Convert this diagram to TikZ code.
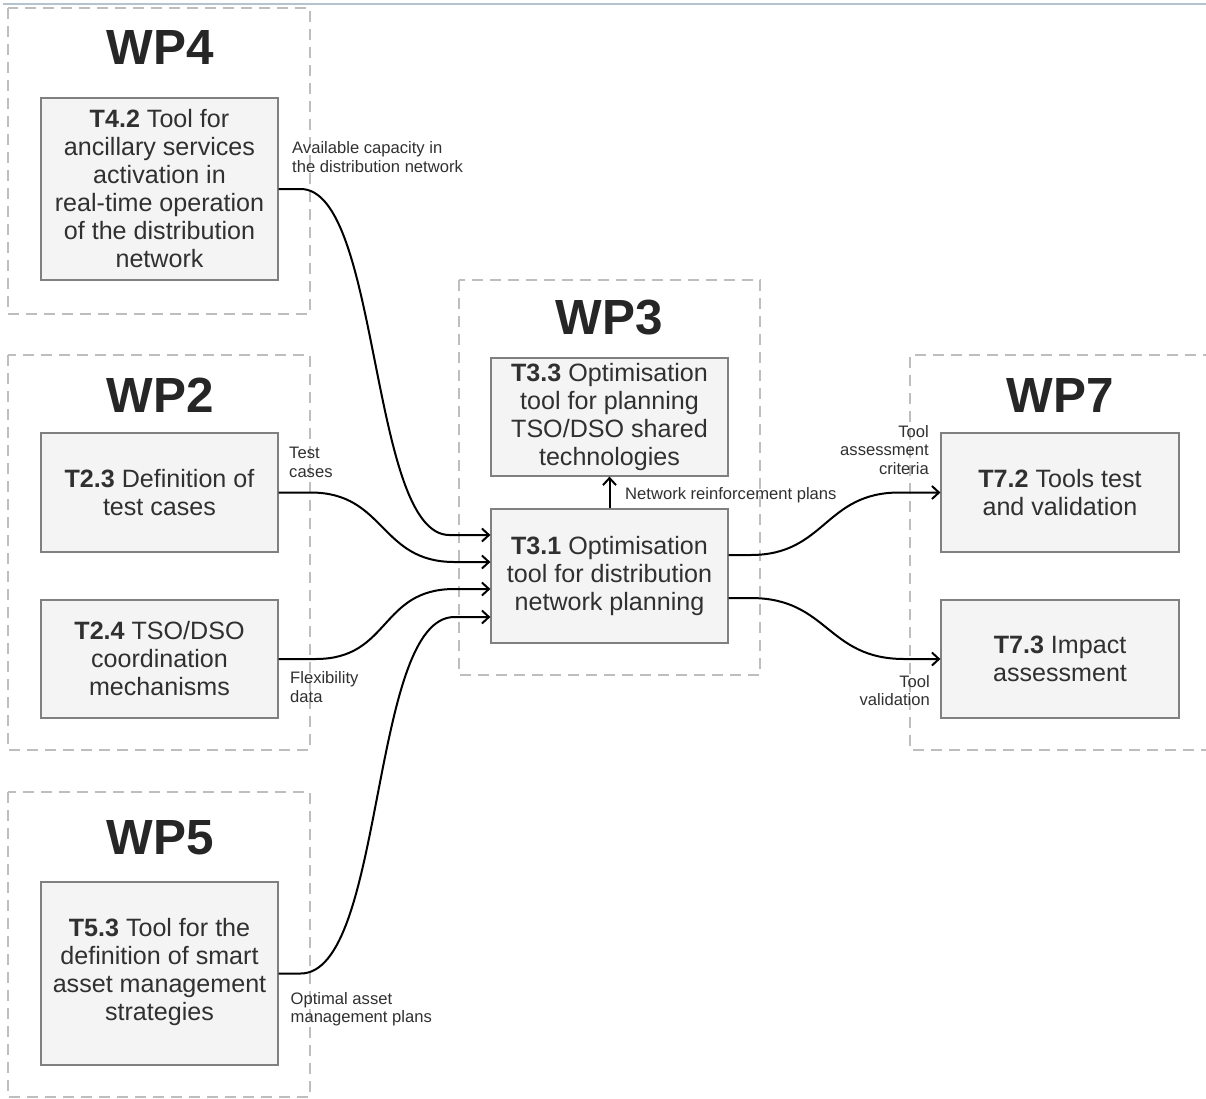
\documentclass[tikz,border=0pt]{standalone}
\usepackage{fontspec}
\setmainfont{Liberation Sans}
\usetikzlibrary{arrows.meta,calc}
\definecolor{ink}{HTML}{303030}
\definecolor{titleink}{HTML}{262626}
\definecolor{boxfill}{HTML}{F3F4F3}
\definecolor{boxline}{HTML}{808080}
\definecolor{wpline}{HTML}{BEBEBE}
\definecolor{toprule}{HTML}{B4C3CE}
\begin{document}
\begin{tikzpicture}[x=1pt,y=-1pt,
  task/.style={draw=boxline, line width=1.2pt, fill=boxfill, minimum width=237pt,
    align=center, text=ink, font=\fontsize{25.1}{28}\selectfont, inner sep=0pt},
  wpframe/.style={draw=wpline, line width=1.5pt, dash pattern=on 11pt off 7pt},
  wptitle/.style={font=\fontsize{49.4}{50}\selectfont\bfseries, text=titleink, inner sep=0pt},
  flow/.style={draw=black, line width=2pt, -{Straight Barb[length=7pt,width=13pt]}},
  note/.style={font=\fontsize{16.6}{18.7}\selectfont, text=ink, inner sep=0pt}]
\useasboundingbox (0,0) rectangle (1206,1098);

% thin rule along the top
\draw[toprule, line width=1.5pt] (3,4) -- (1206,4);

% work package frames
\draw[wpframe] (8,8) rectangle (310,314);
\draw[wpframe] (8,355) rectangle (310,750);
\draw[wpframe] (8,792) rectangle (310,1097);
\draw[wpframe] (459,280) rectangle (760,675);
\draw[wpframe] (1214,355) -- (910,355) -- (910,750) -- (1214,750);

% work package titles
\node[wptitle] (wp4) at (160,47.5) {WP4};
\node[wptitle] (wp2) at (160,395) {WP2};
\node[wptitle] (wp5) at (160,838) {WP5};
\node[wptitle] (wp3) at (609.5,318) {WP3};
\node[wptitle] (wp7) at (1060,395) {WP7};

% tasks
\node[task, minimum height=182pt] (t42) at (159.5,189)
  {\textbf{T4.2} Tool for\\ancillary services\\activation in\\real-time operation\\of the distribution\\network};
\node[task, minimum height=119pt] (t23) at (159.5,492.5)
  {\textbf{T2.3} Definition of\\test cases};
\node[task, minimum height=118pt] (t24) at (159.5,659)
  {\textbf{T2.4} TSO/DSO\\coordination\\mechanisms};
\node[task, minimum height=183pt, text depth=9pt] (t53) at (159.5,973.5)
  {\textbf{T5.3} Tool for the\\definition of smart\\asset management\\strategies};
\node[task, minimum height=118pt] (t33) at (609.5,417)
  {\textbf{T3.3} Optimisation\\tool for planning\\TSO/DSO shared\\technologies};
\node[task, minimum height=134pt] (t31) at (609.5,576)
  {\textbf{T3.1} Optimisation\\tool for distribution\\network planning};
\node[task, minimum width=238pt, minimum height=119pt] (t72) at (1060,492.5)
  {\textbf{T7.2} Tools test\\and validation};
\node[task, minimum width=238pt, minimum height=118pt] (t73) at (1060,659)
  {\textbf{T7.3} Impact\\assessment};

% connector end points on T3.1
\coordinate (in1) at ([yshift=41pt]t31.west);
\coordinate (in2) at ([yshift=14pt]t31.west);
\coordinate (in3) at ([yshift=-13pt]t31.west);
\coordinate (in4) at ([yshift=-41pt]t31.west);
\coordinate (out1) at ([yshift=21pt]t31.east);
\coordinate (out2) at ([yshift=-22pt]t31.east);

% flows into T3.1
\draw[flow] (t42.east) -- ++(22,0) .. controls +(80,0) and +(-80,0) .. ([xshift=-41pt]in1) -- (in1);
\draw[flow] (t23.east) -- ++(32,0) .. controls +(75,0) and +(-75,0) .. ([xshift=-36pt]in2) -- (in2);
\draw[flow] (t24.east) -- ++(37,0) .. controls +(75,0) and +(-75,0) .. ([xshift=-36pt]in3) -- (in3);
\draw[flow] (t53.east) -- ++(22,0) .. controls +(85,0) and +(-85,0) .. ([xshift=-36pt]in4) -- (in4);

% flows out of T3.1
\draw[flow] (t31.north) -- (t33.south);
\draw[flow] (out1) -- ++(22,0) .. controls +(75,0) and +(-75,0) .. ([xshift=-41pt]t72.west) -- (t72.west);
\draw[flow] (out2) -- ++(22,0) .. controls +(78,0) and +(-78,0) .. ([xshift=-36pt]t73.west) -- (t73.west);

% flow labels
\node[note, anchor=north west, align=left] (l1) at (292,141.5) {Available capacity in\\the distribution network};
\node[note, anchor=north west, align=left] (l2) at (289,447) {Test\\cases};
\node[note, anchor=north west, align=left] (l3) at (290,671.5) {Flexibility\\data};
\node[note, anchor=north west, align=left] (l4) at (290.5,992) {Optimal asset\\management plans};
\node[note, anchor=north west] (l5) at (625,487) {Network reinforcement plans};
\node[note, anchor=north east, align=right] (l6) at (929,425) {Tool\\assessment\\criteria};
\node[note, anchor=north east, align=right] (l7) at (930,675) {Tool\\validation};
\end{tikzpicture}
\end{document}
